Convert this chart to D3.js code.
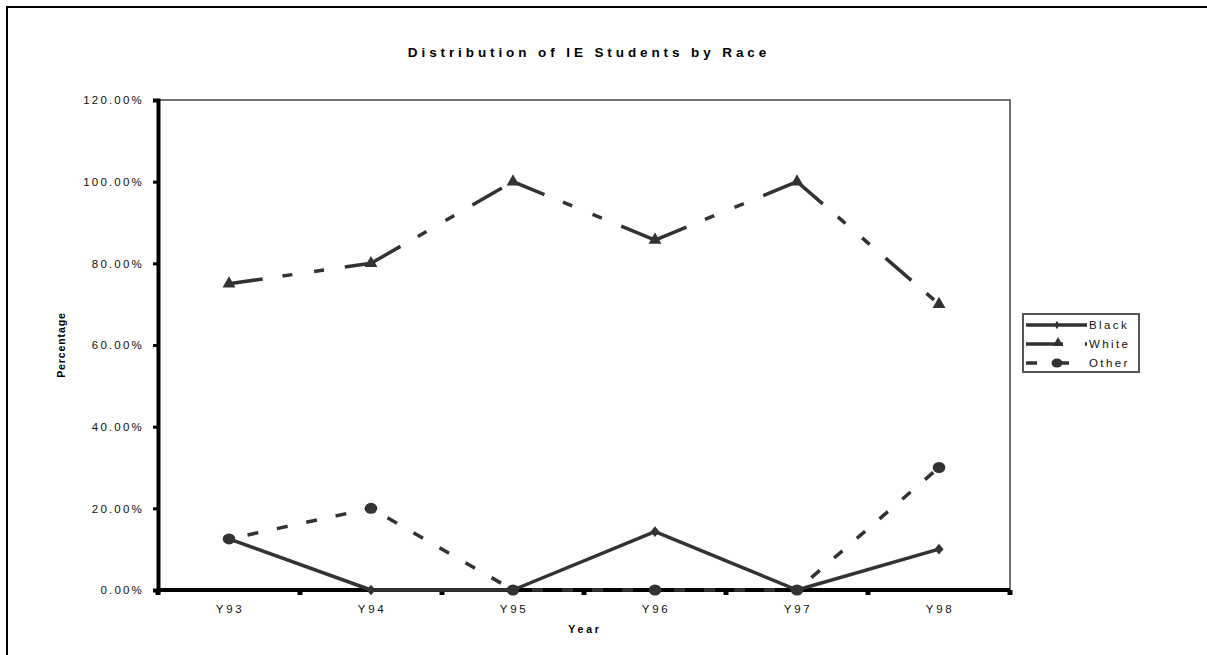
<!DOCTYPE html>
<html>
<head>
<meta charset="utf-8">
<script src="https://cdn.jsdelivr.net/npm/d3@7"></script>
<style>
  html, body { margin: 0; padding: 0; background: #fff; }
  svg { display: block; font-family: "Liberation Sans", Arial, sans-serif; }
</style>
</head>
<body>
<svg id="chart" width="1207" height="655"></svg>
<script>
// Percentage of IE students by race, per year
const years = ["Y93", "Y94", "Y95", "Y96", "Y97", "Y98"];
const black = [0.125, 0, 0, 0.1429, 0, 0.10];
const white = [0.75, 0.80, 1.00, 0.8571, 1.00, 0.70];
const other = [0.125, 0.20, 0, 0, 0, 0.30];
const yTicks = [0, 0.2, 0.4, 0.6, 0.8, 1.0, 1.2];

const series = [
  { name: "Black", values: black, dash: null, offset: 0, marker: "diamond" },
  { name: "White", values: white, dash: "34,20,10,22,10,21", offset: 0, marker: "triangle" },
  { name: "Other", values: other, dash: "11,19", offset: 11, marker: "circle" }
];

const svg = d3.select("#chart");
const ink = "#333333";
const plot = { left: 158, right: 1010, top: 100, bottom: 590 };

// outer frame
svg.append("rect")
  .attr("x", 7).attr("y", 7)
  .attr("width", 1215).attr("height", 660)
  .attr("fill", "none").attr("stroke", "#000").attr("stroke-width", 2);

const x = d3.scaleBand().domain(years).range([plot.left, plot.right]);
const y = d3.scaleLinear().domain([0, 1.2]).range([plot.bottom, plot.top]);

// plot-area border (top and right)
svg.append("path")
  .attr("d", `M${plot.left},${plot.top}H${plot.right}V${plot.bottom}`)
  .attr("fill", "none").attr("stroke", "#444").attr("stroke-width", 1.5);

// title
svg.append("text")
  .attr("x", 589).attr("y", 57)
  .attr("text-anchor", "middle")
  .attr("font-size", 13.5).attr("font-weight", "bold")
  .attr("letter-spacing", 3.9)
  .text("Distribution of IE Students by Race");

// y axis
const yAxis = svg.append("g").attr("transform", `translate(${plot.left},0)`)
  .call(d3.axisLeft(y).tickValues(yTicks).tickFormat(d3.format(".2%")).tickSize(5).tickPadding(9));
yAxis.select(".domain").attr("stroke", "#000").attr("stroke-width", 4);
yAxis.selectAll(".tick line").attr("stroke", "#000").attr("stroke-width", 3);
yAxis.selectAll(".tick text")
  .attr("font-size", 11.5).attr("letter-spacing", 2.2).attr("fill", "#111")
  .attr("font-family", "Liberation Sans, Arial, sans-serif");

// x axis with ticks on category boundaries
const xAxis = svg.append("g").attr("transform", `translate(0,${plot.bottom})`);
xAxis.append("line")
  .attr("x1", plot.left).attr("x2", plot.right)
  .attr("stroke", "#000").attr("stroke-width", 4);
const bounds = years.map(d => x(d)).concat([plot.right]);
xAxis.selectAll("rect.tk").data(bounds).join("rect")
  .attr("class", "tk")
  .attr("x", d => d - 2.5).attr("y", 0)
  .attr("width", 5).attr("height", 5)
  .attr("fill", "#000");
xAxis.selectAll("text").data(years).join("text")
  .attr("x", d => x(d) + x.bandwidth() / 2 + 1)
  .attr("y", 23)
  .attr("text-anchor", "middle")
  .attr("font-size", 11.5).attr("letter-spacing", 2.6).attr("fill", "#111")
  .text(d => d);

// axis titles
svg.append("text")
  .attr("x", 585).attr("y", 633)
  .attr("text-anchor", "middle")
  .attr("font-size", 10.5).attr("font-weight", "bold").attr("letter-spacing", 2.8)
  .text("Year");
svg.append("text")
  .attr("transform", "translate(65,345) rotate(-90)")
  .attr("text-anchor", "middle")
  .attr("font-size", 10.5).attr("font-weight", "bold").attr("letter-spacing", 0.9)
  .text("Percentage");

const cx = (i) => x(years[i]) + x.bandwidth() / 2;

function drawMarker(g, type, px, py) {
  if (type === "diamond") {
    g.append("path").attr("d", d3.symbol(d3.symbolDiamond, 45)())
      .attr("transform", `translate(${px},${py}) scale(1.25,0.85)`).attr("fill", ink);
  } else if (type === "triangle") {
    g.append("path").attr("d", d3.symbol(d3.symbolTriangle, 72)())
      .attr("transform", `translate(${px},${py})`).attr("fill", ink);
  } else {
    g.append("ellipse").attr("cx", px).attr("cy", py)
      .attr("rx", 6.3).attr("ry", 5.5).attr("fill", ink);
  }
}

// series: each segment restarts its dash pattern; dashed series go under the solid one
[series[2], series[1], series[0]].forEach(s => {
  const g = svg.append("g");
  const pts = s.values.map((v, i) => [cx(i), y(v)]);
  d3.pairs(pts).forEach(([a, b]) => {
    g.append("path")
      .attr("d", d3.line()([a, b]))
      .attr("fill", "none")
      .attr("stroke", ink)
      .attr("stroke-width", 3.5)
      .attr("stroke-dasharray", s.dash)
      .attr("stroke-dashoffset", s.offset);
  });
  pts.forEach(p => drawMarker(g, s.marker, p[0], p[1]));
});

// legend
const lg = svg.append("g").attr("transform", "translate(1023,314)");
lg.append("rect").attr("x", 0).attr("y", 0).attr("width", 116).attr("height", 58)
  .attr("fill", "#fff").attr("stroke", "#555").attr("stroke-width", 2);
const legendDash = { Black: null, White: "37,22,3,60", Other: "11,15,17,40" };
series.forEach((s, i) => {
  const yy = 11 + i * 19;
  lg.append("line")
    .attr("x1", 3).attr("x2", 64).attr("y1", yy).attr("y2", yy)
    .attr("stroke", ink).attr("stroke-width", 3.5)
    .attr("stroke-dasharray", legendDash[s.name]);
  if (s.marker === "circle") {
    lg.append("ellipse").attr("cx", 34).attr("cy", yy).attr("rx", 5.5).attr("ry", 4.5).attr("fill", ink);
  } else if (s.marker === "triangle") {
    lg.append("path").attr("d", d3.symbol(d3.symbolTriangle, 45)())
      .attr("transform", `translate(35,${yy - 1})`).attr("fill", ink);
  } else {
    lg.append("path").attr("d", d3.symbol(d3.symbolDiamond, 22)())
      .attr("transform", `translate(34,${yy})`).attr("fill", ink);
  }
  lg.append("text")
    .attr("x", 66).attr("y", yy + 4)
    .attr("font-size", 11.5).attr("letter-spacing", 2.4).attr("fill", "#111")
    .text(s.name);
});
</script>
</body>
</html>
